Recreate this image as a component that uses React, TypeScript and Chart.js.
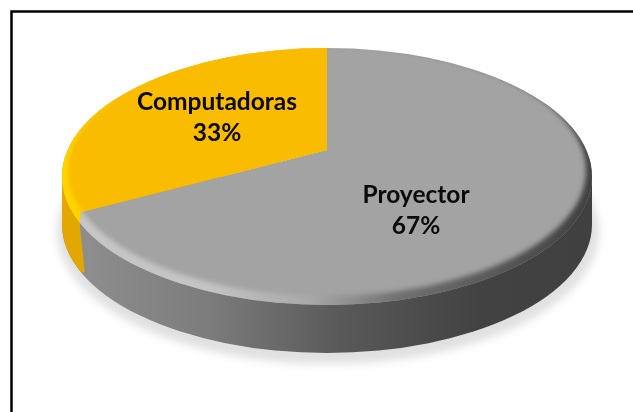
import React, { useEffect, useRef } from "react";
import { Chart, registerables } from "chart.js";

Chart.register(...registerables);

const categories = ["Proyector", "Computadoras"];
const shares = [67, 33];
const sliceColors = ["#A3A3A3", "#FABC00"];

const APEX = { x: 327, y: 150 };
const TOP = { x: 327, y: 176.5, rx: 265, ry: 128.5 };
const DEPTH = 48;
const SX = 2;
const SY = 0.92;

function ellipsePath(ctx: CanvasRenderingContext2D, cx: number, cy: number, rx: number, ry: number) {
  ctx.beginPath();
  ctx.ellipse(cx, cy, rx, ry, 0, 0, Math.PI * 2);
}

// where the slice boundary meets the rim, pulled in a little for the rounded corner
function boundaryPoint(angle: number) {
  const dx = Math.cos(angle) * SX;
  const dy = Math.sin(angle) * SY;
  const ox = APEX.x - TOP.x;
  const oy = APEX.y - TOP.y;
  const a = (dx * dx) / (TOP.rx * TOP.rx) + (dy * dy) / (TOP.ry * TOP.ry);
  const b = 2 * ((ox * dx) / (TOP.rx * TOP.rx) + (oy * dy) / (TOP.ry * TOP.ry));
  const c = (ox * ox) / (TOP.rx * TOP.rx) + (oy * oy) / (TOP.ry * TOP.ry) - 1;
  const t = ((-b + Math.sqrt(b * b - 4 * a * c)) / (2 * a)) * 0.972;
  return { x: APEX.x + dx * t, y: APEX.y + dy * t };
}

function yellowRegion(ctx: CanvasRenderingContext2D, edge: { x: number; y: number }) {
  ctx.beginPath();
  ctx.moveTo(APEX.x, APEX.y);
  ctx.lineTo(edge.x, edge.y);
  ctx.lineTo(edge.x - 1, edge.y + 12);
  ctx.lineTo(edge.x + 4, edge.y + 60);
  ctx.lineTo(TOP.x - TOP.rx - 8, edge.y + 60);
  ctx.lineTo(TOP.x - TOP.rx - 8, 40);
  ctx.lineTo(APEX.x, 40);
  ctx.closePath();
}

const pie3d = {
  id: "pie3d",
  beforeDatasetsDraw(chart: any) {
    const ctx: CanvasRenderingContext2D = chart.ctx;
    const arcs = chart.getDatasetMeta(0).data;
    const edge = boundaryPoint(arcs[1].startAngle);

    // soft ground shadow
    ctx.save();
    ctx.filter = "blur(4px)";
    ctx.fillStyle = "#e0e0e0";
    ellipsePath(ctx, TOP.x + 1, TOP.y + DEPTH + 7, TOP.rx + 6, TOP.ry + 4);
    ctx.fill();
    ctx.restore();

    // side wall
    ctx.save();
    ctx.beginPath();
    ctx.ellipse(TOP.x, TOP.y + DEPTH, TOP.rx, TOP.ry, 0, 0, Math.PI);
    ctx.lineTo(TOP.x - TOP.rx, TOP.y);
    ctx.lineTo(TOP.x + TOP.rx, TOP.y);
    ctx.closePath();
    ctx.clip();
    const wall = ctx.createLinearGradient(edge.x, 0, TOP.x + TOP.rx, 0);
    wall.addColorStop(0, "#8e8e8e");
    wall.addColorStop(0.25, "#7c7c7c");
    wall.addColorStop(0.5, "#5a5a5a");
    wall.addColorStop(0.78, "#424242");
    wall.addColorStop(1, "#404040");
    ctx.fillStyle = wall;
    ctx.fillRect(TOP.x - TOP.rx - 1, TOP.y, 2 * TOP.rx + 2, TOP.ry + DEPTH + 2);
    yellowRegion(ctx, edge);
    ctx.clip();
    ctx.fillStyle = "#E2A800";
    ctx.fillRect(TOP.x - TOP.rx - 1, TOP.y, edge.x - TOP.x + TOP.rx + 10, TOP.ry + DEPTH + 2);
    ctx.restore();

    // top face: the real slices, clipped to the face and foreshortened
    ctx.save();
    ellipsePath(ctx, TOP.x, TOP.y, TOP.rx, TOP.ry);
    ctx.clip();
    ctx.translate(APEX.x, APEX.y);
    ctx.scale(SX, SY);
    ctx.translate(-arcs[0].x, -arcs[0].y);
  },
  afterDatasetsDraw(chart: any) {
    const ctx: CanvasRenderingContext2D = chart.ctx;
    ctx.restore();
    const arcs = chart.getDatasetMeta(0).data;
    const edge = boundaryPoint(arcs[1].startAngle);

    const crescent = () => {
      ctx.beginPath();
      ctx.ellipse(TOP.x, TOP.y, TOP.rx + 6, TOP.ry + 6, 0, 0, Math.PI * 2);
      ctx.ellipse(TOP.x, TOP.y - 6, TOP.rx - 6, TOP.ry - 3, 0, 0, Math.PI * 2);
    };

    // bevel over the whole face in grey tones
    ctx.save();
    ellipsePath(ctx, TOP.x, TOP.y, TOP.rx, TOP.ry);
    ctx.clip();
    const bevel = ctx.createLinearGradient(edge.x, 0, TOP.x + TOP.rx, 0);
    bevel.addColorStop(0, "#c6c6c6");
    bevel.addColorStop(0.25, "#c4c4c4");
    bevel.addColorStop(0.45, "#a8a8a8");
    bevel.addColorStop(0.62, "#707070");
    bevel.addColorStop(1, "#404040");
    ctx.filter = "blur(2.5px)";
    ctx.fillStyle = bevel;
    crescent();
    ctx.fill("evenodd");
    ctx.restore();

    // yellow slice: its own face colour and bevel over the corner
    ctx.save();
    ellipsePath(ctx, TOP.x, TOP.y, TOP.rx, TOP.ry);
    ctx.clip();
    yellowRegion(ctx, edge);
    ctx.clip();
    ctx.fillStyle = sliceColors[1];
    ctx.fillRect(TOP.x - TOP.rx - 1, 40, APEX.x - TOP.x + TOP.rx + 1, 300);
    ctx.filter = "blur(2px)";
    ctx.fillStyle = "#FFD300";
    crescent();
    ctx.fill("evenodd");
    ctx.restore();

    // frame
    ctx.save();
    ctx.strokeStyle = "#000000";
    ctx.lineWidth = 2.5;
    ctx.beginPath();
    ctx.moveTo(11.5, 412);
    ctx.lineTo(11.5, 11.5);
    ctx.lineTo(633, 11.5);
    ctx.stroke();
    ctx.restore();

    // data labels
    const spots = [
      { x: 416, y: 195 },
      { x: 217, y: 102 },
    ];
    const total = shares.reduce((s, v) => s + v, 0);
    ctx.save();
    ctx.fillStyle = "#0a0a0a";
    ctx.font = "bold 24.5px Lato";
    ctx.textAlign = "center";
    ctx.textBaseline = "middle";
    categories.forEach((name, i) => {
      ctx.fillText(name, spots[i].x, spots[i].y);
      ctx.fillText(`${Math.round((shares[i] / total) * 100)}%`, spots[i].x, spots[i].y + 31);
    });
    ctx.restore();
  },
};

export default function App() {
  const ref = useRef<HTMLCanvasElement>(null);
  useEffect(() => {
    const chart = new Chart(ref.current!, {
      type: "pie",
      data: {
        labels: categories,
        datasets: [
          {
            data: shares,
            backgroundColor: sliceColors,
            borderWidth: 0,
            clip: false,
          } as any,
        ],
      },
      options: {
        responsive: false,
        animation: false,
        events: [],
        plugins: { legend: { display: false }, tooltip: { enabled: false } },
      },
      plugins: [pie3d],
    });
    return () => chart.destroy();
  }, []);
  return (
    <canvas
      ref={ref}
      width={633}
      height={412}
      style={{ position: "fixed", left: 0, top: 0, width: 633, height: 412, background: "#ffffff" }}
    />
  );
}
